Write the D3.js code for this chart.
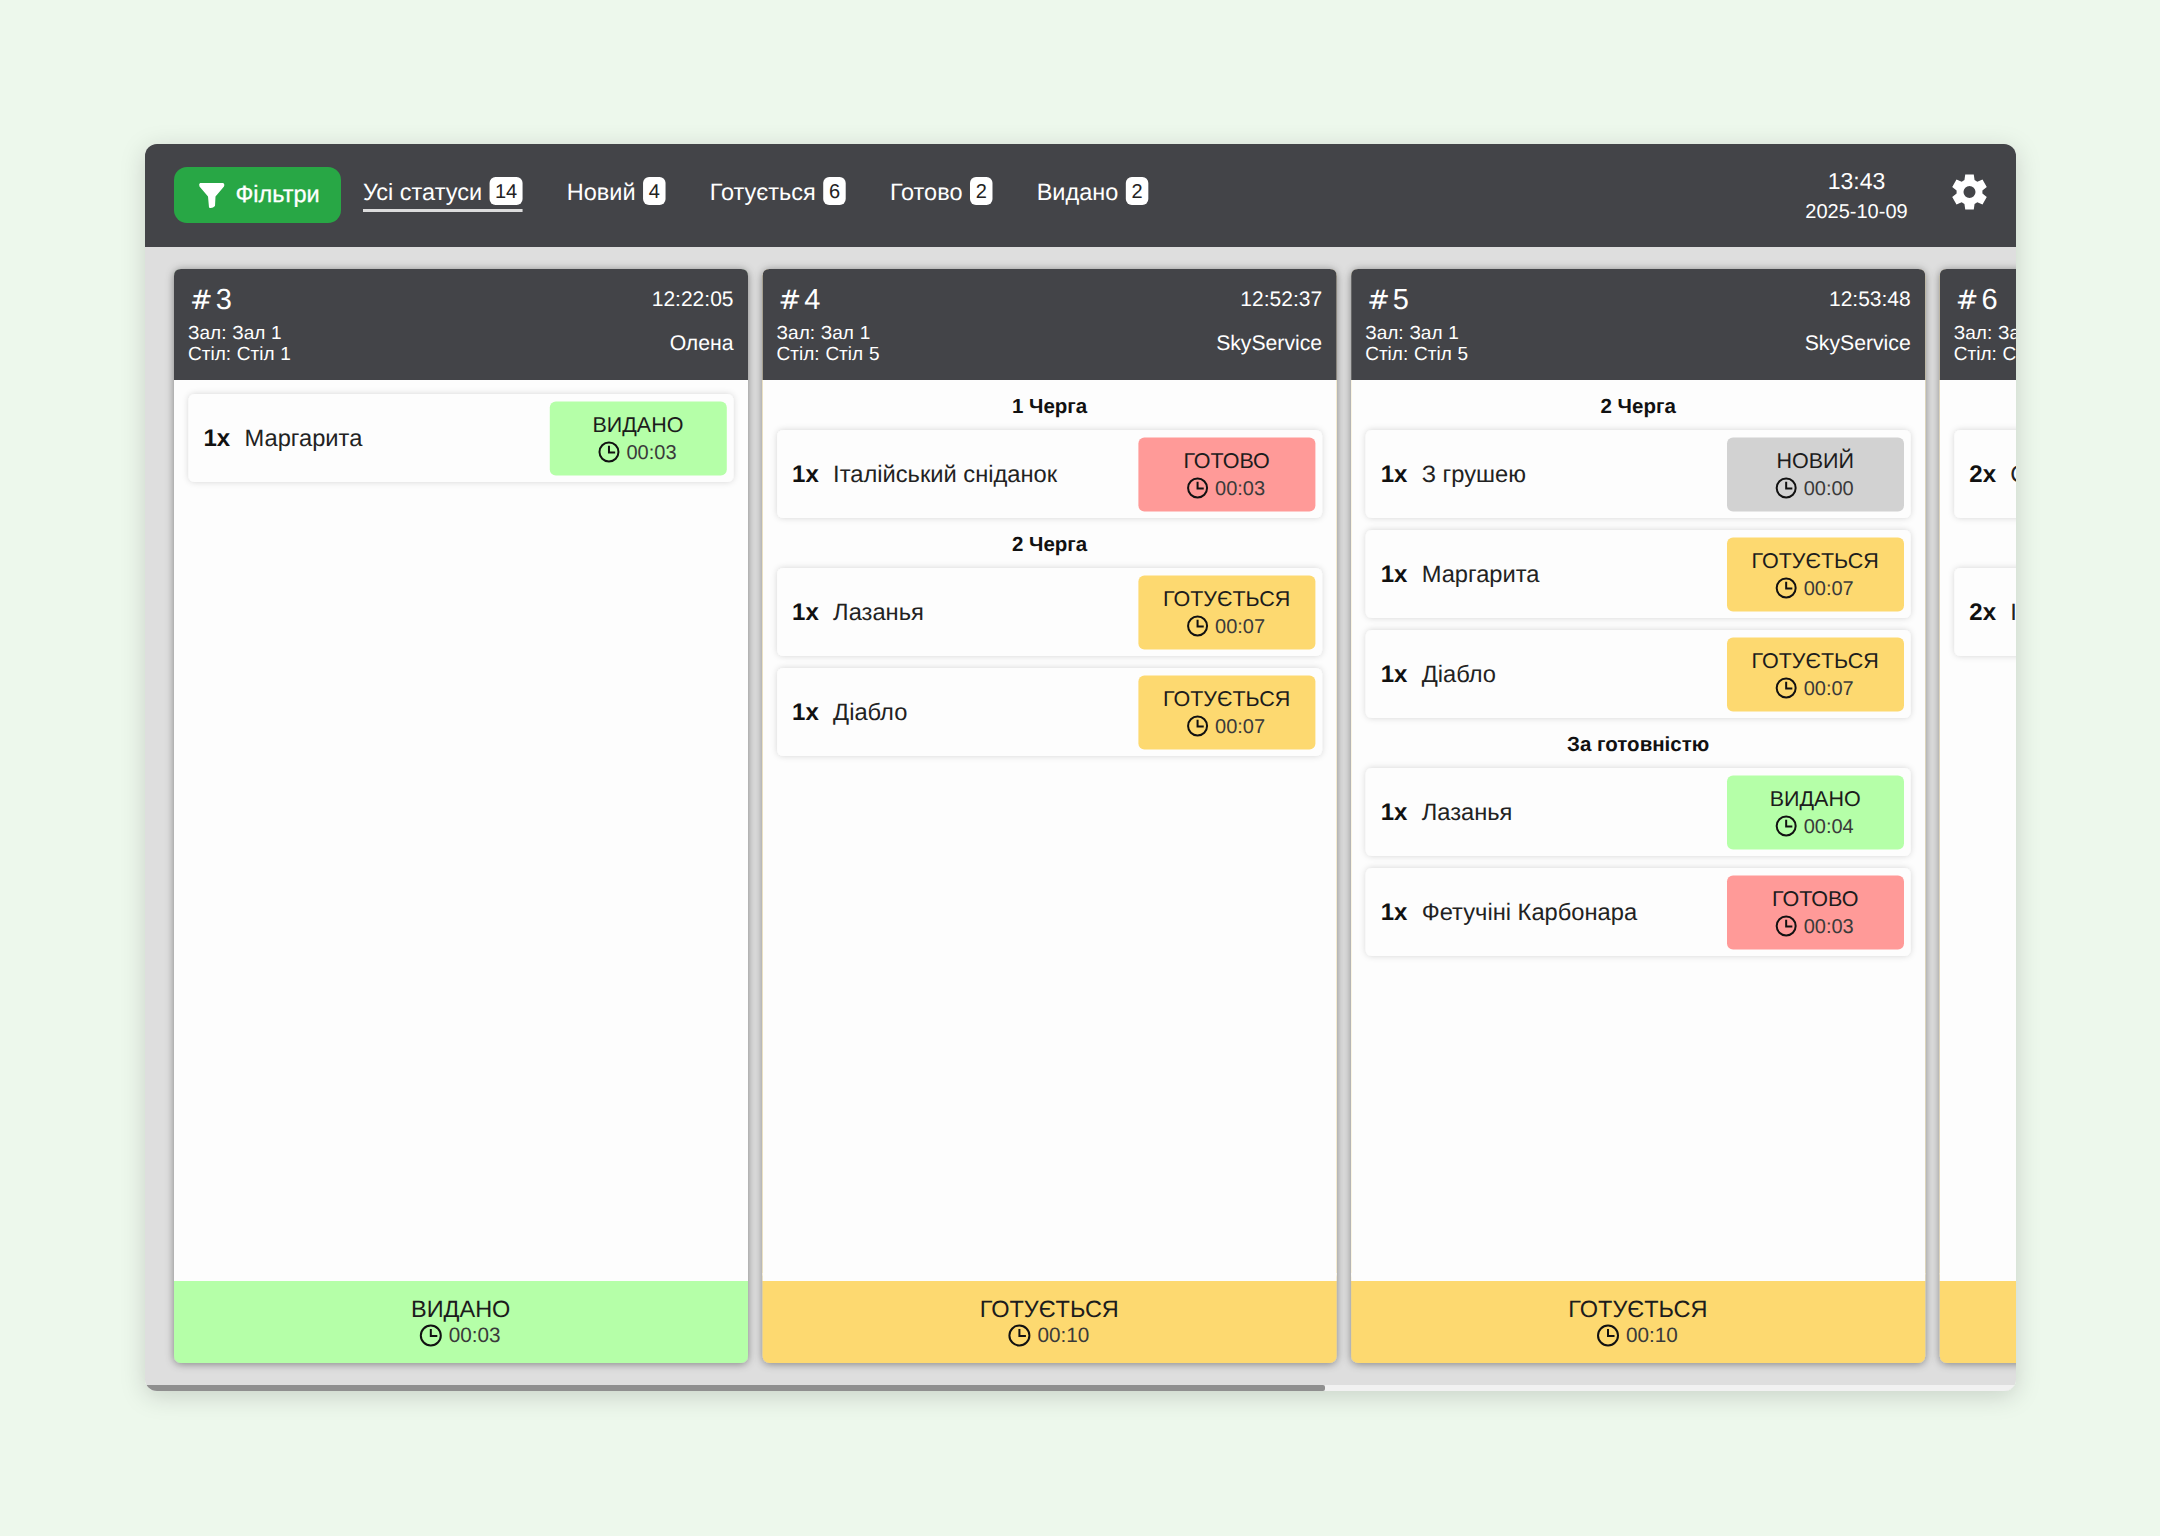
<!DOCTYPE html>
<html>
<head>
<meta charset="utf-8">
<script src="https://cdn.jsdelivr.net/npm/d3@7"></script>
<style>
  html, body { margin: 0; padding: 0; background: #edf8ec; }
  svg { display: block; }
  text { font-family: "Liberation Sans", Arial, sans-serif; text-rendering: geometricPrecision; }
</style>
</head>
<body>
<script>
(function app() {
  // top bar
  const tabLabels = ["Усі статуси", "Новий", "Готується", "Готово", "Видано"];
  const tabCounts = [14, 4, 6, 2, 2];
  const clockTime = "13:43";
  const clockDate = "2025-10-09";
  const filterLabel = "Фільтри";

  // orders (one entry per column)
  const orderIds = ["3", "4", "5", "6"];
  const orderHalls = ["Зал: Зал 1", "Зал: Зал 1", "Зал: Зал 1", "Зал: Зал 1"];
  const orderTables = ["Стіл: Стіл 1", "Стіл: Стіл 5", "Стіл: Стіл 5", "Стіл: Стіл"];
  const orderTimes = ["12:22:05", "12:52:37", "12:53:48", null];
  const orderWaiters = ["Олена", "SkyService", "SkyService", null];
  const orderStatus = ["ВИДАНО", "ГОТУЄТЬСЯ", "ГОТУЄТЬСЯ", "ГОТУЄТЬСЯ"];
  const orderElapsed = ["00:03", "00:10", "00:10", null];

  // dishes (one entry per row)
  const rowOrder = [0, 1, 1, 1, 2, 2, 2, 2, 2, 3, 3];
  const rowQueue = [null, "1 Черга", "2 Черга", "2 Черга", "2 Черга", "2 Черга", "2 Черга", "За готовністю", "За готовністю", "a", "b"];
  const rowQty = ["1x", "1x", "1x", "1x", "1x", "1x", "1x", "1x", "1x", "2x", "2x"];
  const rowName = ["Маргарита", "Італійський сніданок", "Лазанья", "Діабло", "З грушею", "Маргарита", "Діабло", "Лазанья", "Фетучіні Карбонара", "С", "І"];
  const rowStatus = ["ВИДАНО", "ГОТОВО", "ГОТУЄТЬСЯ", "ГОТУЄТЬСЯ", "НОВИЙ", "ГОТУЄТЬСЯ", "ГОТУЄТЬСЯ", "ВИДАНО", "ГОТОВО", null, null];
  const rowElapsed = ["00:03", "00:03", "00:07", "00:07", "00:00", "00:07", "00:07", "00:04", "00:03", null, null];

  const statusNames = ["НОВИЙ", "ГОТУЄТЬСЯ", "ГОТОВО", "ВИДАНО"];
  const statusColors = ["#d2d2d2", "#fdd970", "#ff9a98", "#b5ffa8"];

  const color = d3.scaleOrdinal(statusNames, statusColors);

  const win = { x: 145, y: 144, w: 1871, h: 1247, top: 103 };
  const card = { w: 574, top: 269, head: 111, bottom: 1363, foot: 82 };
  const rowBox = { inset: 14.5, h: 88, gap: 12, title: 38 };

  const columnX = d3.scaleLinear().domain([0, 1]).range([174, 762.6]);

  const svg = d3
    .select("body")
    .append("svg")
    .attr("width", 2160)
    .attr("height", 1536);

  const defs = svg.append("defs");
  function shadow(id, dy, blur, alpha) {
    const f = defs
      .append("filter")
      .attr("id", id)
      .attr("x", "-10%")
      .attr("y", "-10%")
      .attr("width", "120%")
      .attr("height", "120%");
    f.append("feDropShadow")
      .attr("dx", 0)
      .attr("dy", dy)
      .attr("stdDeviation", blur)
      .attr("flood-color", "#000")
      .attr("flood-opacity", alpha);
  }
  shadow("winShadow", 5, 12, 0.16);
  shadow("cardShadow", 1, 4, 0.42);
  shadow("rowShadow", 0, 3, 0.16);

  defs
    .append("clipPath")
    .attr("id", "winClip")
    .append("rect")
    .attr("x", win.x)
    .attr("y", win.y)
    .attr("width", win.w)
    .attr("height", win.h)
    .attr("rx", 12);

  svg
    .append("rect")
    .attr("width", 2160)
    .attr("height", 1536)
    .attr("fill", "#edf8ec");

  svg
    .append("rect")
    .attr("x", win.x)
    .attr("y", win.y)
    .attr("width", win.w)
    .attr("height", win.h)
    .attr("rx", 12)
    .attr("fill", "#dedede")
    .attr("filter", "url(#winShadow)");

  const root = svg.append("g").attr("clip-path", "url(#winClip)");

  root
    .append("rect")
    .attr("x", win.x)
    .attr("y", win.y)
    .attr("width", win.w)
    .attr("height", win.top)
    .attr("fill", "#434448");

  // scrollbar
  root
    .append("rect")
    .attr("x", win.x)
    .attr("y", 1385)
    .attr("width", win.w)
    .attr("height", 6)
    .attr("fill", "#f1f1f1");
  root
    .append("rect")
    .attr("x", win.x)
    .attr("y", 1385)
    .attr("width", 1180)
    .attr("height", 6)
    .attr("rx", 2)
    .attr("fill", "#8f8f8f");

  // filter button
  root
    .append("rect")
    .attr("x", 174)
    .attr("y", 167)
    .attr("width", 167)
    .attr("height", 56)
    .attr("rx", 13)
    .attr("fill", "#28a745");
  root
    .append("path")
    .attr("d", "M200,183 L223,183 Q225,184 224,186.5 L215.5,196.5 L215,206 Q212,209 209,207.5 L208,196.5 L199.5,186.5 Q198.5,184 200,183 Z")
    .attr("fill", "#fff");
  root
    .append("text")
    .attr("x", 235.5)
    .attr("y", 194)
    .attr("dy", "0.35em")
    .attr("font-size", 23.5)
    .attr("fill", "#fff")
    .attr("stroke", "#fff")
    .attr("stroke-width", 0.3)
    .text(filterLabel);

  // status tabs, laid out one after another
  let tabX = 363;
  tabLabels.forEach((label, i) => {
    const tab = root.append("g");
    const t = tab
      .append("text")
      .attr("x", tabX)
      .attr("y", 192)
      .attr("dy", "0.35em")
      .attr("font-size", 23.5)
      .attr("fill", "#fff")
      .text(label);
    const len = t.node().getComputedTextLength();
    const badgeW = tabCounts[i] > 9 ? 33 : 22.5;
    tab
      .append("rect")
      .attr("x", tabX + len + 7.5)
      .attr("y", 177)
      .attr("width", badgeW)
      .attr("height", 28)
      .attr("rx", 6)
      .attr("fill", "#fff");
    tab
      .append("text")
      .attr("x", tabX + len + 7.5 + badgeW / 2)
      .attr("y", 191)
      .attr("dy", "0.35em")
      .attr("text-anchor", "middle")
      .attr("font-size", 20)
      .attr("fill", "#222")
      .text(tabCounts[i]);
    if (i === 0) {
      tab
        .append("rect")
        .attr("x", tabX)
        .attr("y", 209)
        .attr("width", len + 7.5 + badgeW)
        .attr("height", 3)
        .attr("fill", "#dcdcdc");
    }
    tabX += len + 7.5 + badgeW + 44.2;
  });

  // clock
  root
    .append("text")
    .attr("x", 1856.5)
    .attr("y", 181)
    .attr("dy", "0.35em")
    .attr("text-anchor", "middle")
    .attr("font-size", 23)
    .attr("fill", "#fff")
    .text(clockTime);
  root
    .append("text")
    .attr("x", 1856.5)
    .attr("y", 211)
    .attr("dy", "0.35em")
    .attr("text-anchor", "middle")
    .attr("font-size", 20)
    .attr("fill", "#fff")
    .text(clockDate);

  // settings gear, six wide teeth
  const gearPts = [];
  d3.range(6).forEach(i => {
    const a = (i * Math.PI) / 3;
    [-0.4, -0.24, 0.24, 0.4].forEach((o, j) => {
      gearPts.push([a + o, j === 0 || j === 3 ? 13 : 18]);
    });
  });
  root
    .append("path")
    .attr("transform", "translate(1969.5,192)")
    .attr("fill-rule", "evenodd")
    .attr("fill", "#fff")
    .attr(
      "d",
      d3.lineRadial().curve(d3.curveLinearClosed)(gearPts) +
        "M6,0A6,6 0 1,0 -6,0A6,6 0 1,0 6,0Z"
    );

  function clockIcon(g, cx, cy, r) {
    g.append("circle")
      .attr("cx", cx)
      .attr("cy", cy)
      .attr("r", r)
      .attr("fill", "none")
      .attr("stroke", "#111")
      .attr("stroke-width", 2);
    g.append("path")
      .attr("d", `M${cx},${cy - r * 0.65}V${cy + 0.5}H${cx + r * 0.65}`)
      .attr("fill", "none")
      .attr("stroke", "#111")
      .attr("stroke-width", 2);
  }

  // label + clock + elapsed time, centred on cx
  function statusText(g, cx, labelY, timeY, label, elapsed, labelSize, timeSize, r) {
    g.append("text")
      .attr("x", cx)
      .attr("y", labelY)
      .attr("dy", "0.35em")
      .attr("text-anchor", "middle")
      .attr("font-size", labelSize)
      .attr("fill", "#1c1c1c")
      .text(label);
    const t = g
      .append("text")
      .attr("y", timeY)
      .attr("dy", "0.35em")
      .attr("font-size", timeSize)
      .attr("fill", "#3a3a3a")
      .text(elapsed);
    const len = t.node().getComputedTextLength();
    const full = len + 2 * r + 8;
    t.attr("x", cx - full / 2 + 2 * r + 8);
    clockIcon(g, cx - full / 2 + r, timeY + 0.5, r);
  }

  // columns
  const columns = root
    .selectAll("g.column")
    .data(orderIds)
    .enter()
    .append("g")
    .attr("class", "column")
    .attr("transform", (d, i) => `translate(${columnX(i)},0)`);

  columns
    .append("rect")
    .attr("y", card.top)
    .attr("width", card.w)
    .attr("height", card.bottom - card.top)
    .attr("rx", 7)
    .attr("fill", (d, i) => color(orderStatus[i]))
    .attr("filter", "url(#cardShadow)");
  columns
    .append("rect")
    .attr("y", card.top)
    .attr("width", card.w)
    .attr("height", card.bottom - card.foot - card.top)
    .attr("rx", 7)
    .attr("fill", "#fdfdfd");
  columns
    .append("rect")
    .attr("y", card.bottom - card.foot - 8)
    .attr("width", card.w)
    .attr("height", 8)
    .attr("fill", "#fdfdfd");
  columns
    .append("path")
    .attr("fill", "#434448")
    .attr("d", `M0,${card.top + card.head}V${card.top + 7}Q0,${card.top} 7,${card.top}H${card.w - 7}Q${card.w},${card.top} ${card.w},${card.top + 7}V${card.top + card.head}Z`);

  // the # comes out wider than the digit in the reference
  const idText = columns
    .append("text")
    .attr("x", 16)
    .attr("y", 299)
    .attr("dy", "0.35em")
    .attr("font-size", 29)
    .attr("fill", "#fff");
  idText
    .append("tspan")
    .attr("font-family", "DejaVu Sans")
    .attr("font-size", 27)
    .text("#");
  idText
    .append("tspan")
    .attr("dx", 3)
    .text(d => d);
  columns
    .append("text")
    .attr("x", 14)
    .attr("y", 332)
    .attr("dy", "0.35em")
    .attr("font-size", 19)
    .attr("word-spacing", 0.5)
    .attr("fill", "#fff")
    .text((d, i) => orderHalls[i]);
  columns
    .append("text")
    .attr("x", 14)
    .attr("y", 353)
    .attr("dy", "0.35em")
    .attr("font-size", 19)
    .attr("word-spacing", 0.5)
    .attr("fill", "#fff")
    .text((d, i) => orderTables[i]);

  columns.each(function(d, i) {
    const g = d3.select(this);
    if (orderTimes[i]) {
      g.append("text")
        .attr("x", card.w - 14.5)
        .attr("y", 299)
        .attr("dy", "0.35em")
        .attr("text-anchor", "end")
        .attr("font-size", 21)
        .attr("fill", "#fff")
        .text(orderTimes[i]);
      g.append("text")
        .attr("x", card.w - 14.5)
        .attr("y", 343)
        .attr("dy", "0.35em")
        .attr("text-anchor", "end")
        .attr("font-size", 21.2)
        .attr("fill", "#fff")
        .text(orderWaiters[i]);
    }
    if (orderElapsed[i]) {
      statusText(g, card.w / 2 - 0.3, 1309, 1335, orderStatus[i], orderElapsed[i], 23.5, 20.7, 10);
    }

    // dish rows stacked from the top of the column
    let cursor = card.top + card.head + 12;
    let lastQueue = null;
    rowOrder.forEach((owner, r) => {
      if (owner !== i) return;
      if (rowQueue[r] !== lastQueue) {
        if (rowStatus[r]) {
          g.append("text")
            .attr("x", card.w / 2)
            .attr("y", cursor + 14)
            .attr("dy", "0.35em")
            .attr("text-anchor", "middle")
            .attr("font-size", 20.5)
            .attr("font-weight", "bold")
            .attr("fill", "#111")
            .text(rowQueue[r]);
        }
        cursor += rowBox.title;
        lastQueue = rowQueue[r];
      } else if (lastQueue === null) {
        cursor += 2;
      }
      const row = g.append("g").attr("transform", `translate(0,${cursor})`);
      row
        .append("rect")
        .attr("x", rowBox.inset)
        .attr("width", card.w - 2 * rowBox.inset)
        .attr("height", rowBox.h)
        .attr("rx", 6)
        .attr("fill", "#fdfdfd")
        .attr("filter", "url(#rowShadow)");
      row
        .append("text")
        .attr("x", 29.5)
        .attr("y", rowBox.h / 2)
        .attr("dy", "0.35em")
        .attr("font-size", 24)
        .attr("font-weight", "bold")
        .attr("fill", "#111")
        .text(rowQty[r]);
      row
        .append("text")
        .attr("x", 70.5)
        .attr("y", rowBox.h / 2)
        .attr("dy", "0.35em")
        .attr("font-size", 23.7)
        .attr("fill", "#222")
        .text(rowName[r]);
      if (rowStatus[r]) {
        row
          .append("rect")
          .attr("x", 375.8)
          .attr("y", 7.5)
          .attr("width", 177)
          .attr("height", 74)
          .attr("rx", 6)
          .attr("fill", color(rowStatus[r]));
        statusText(row, 464, 30, 57.5, rowStatus[r], rowElapsed[r], 21.5, 20, 9.5);
      }
      cursor += rowBox.h + rowBox.gap;
    });
  });
})();
</script>
</body>
</html>
